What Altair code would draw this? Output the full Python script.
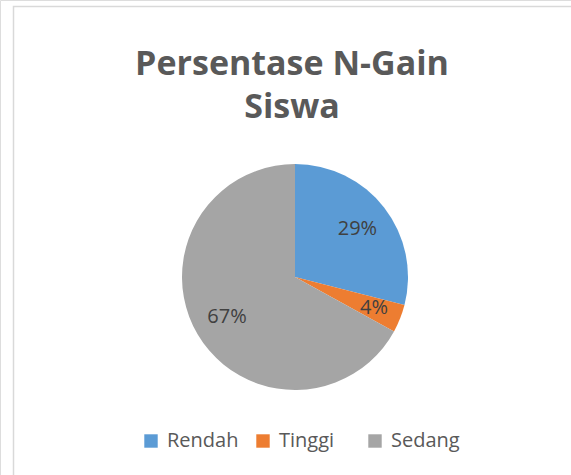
import altair as alt
import pandas as pd

categories = ["Rendah", "Tinggi", "Sedang"]
percentages = [29, 4, 67]
colors = ["#5B9BD5", "#ED7D31", "#A5A5A5"]
title_lines = ["Persentase N-Gain", "Siswa"]

df = pd.DataFrame({
    "kategori": categories,
    "persen": percentages,
    "urutan": list(range(len(categories))),
})
df["label"] = df["persen"].astype(str) + "%"

CX, CY = 295, 277

base = alt.Chart(df).encode(
    theta=alt.Theta("persen:Q", stack=True),
    order=alt.Order("urutan:Q", sort="ascending"),
    x=alt.value(CX),
    y=alt.value(CY),
)

arc = base.mark_arc(outerRadius=113).encode(
    color=alt.Color(
        "kategori:N",
        scale=alt.Scale(domain=categories, range=colors),
        sort=categories,
        legend=alt.Legend(
            orient="none",
            legendX=141,
            legendY=431,
            direction="horizontal",
            title=None,
            symbolType="square",
            symbolSize=180,
            symbolStrokeWidth=0,
            labelFontSize=20,
            labelFont="Open Sans",
            labelColor="#595959",
            labelOffset=6,
            columnPadding=14,
            gridAlign="all",
            padding=0,
        ),
    )
)

labels_main = base.mark_text(
    radius=79, fontSize=20, font="Open Sans", color="#404040"
).encode(
    text="label:N",
    opacity=alt.condition("datum.kategori != 'Tinggi'", alt.value(1), alt.value(0)),
)

labels_small = base.mark_text(
    radius=85, fontSize=20, font="Open Sans", color="#404040"
).encode(
    text="label:N",
    opacity=alt.condition("datum.kategori == 'Tinggi'", alt.value(1), alt.value(0)),
)

title_df = pd.DataFrame({"judul": ["\n".join(title_lines)]})
title = alt.Chart(title_df).mark_text(
    font="Open Sans",
    fontSize=34,
    fontWeight="bold",
    color="#595959",
    lineBreak="\n",
    lineHeight=43,
    align="center",
    baseline="alphabetic",
).encode(text="judul:N", x=alt.value(292), y=alt.value(75))

border_df = pd.DataFrame({"b": [0]})
border = alt.Chart(border_df).mark_rect(
    fillOpacity=0, stroke="#D9D9D9", strokeWidth=1.5
).encode(
    x=alt.value(13.5), x2=alt.value(640), y=alt.value(6.5), y2=alt.value(560)
)

chart = alt.layer(border, arc, labels_main, labels_small, title).properties(
    width=571, height=475, autosize="none", padding=0
).configure_view(stroke=None).configure(background="white")

chart.save("out.html", embed_options={"renderer": "svg", "actions": False})
